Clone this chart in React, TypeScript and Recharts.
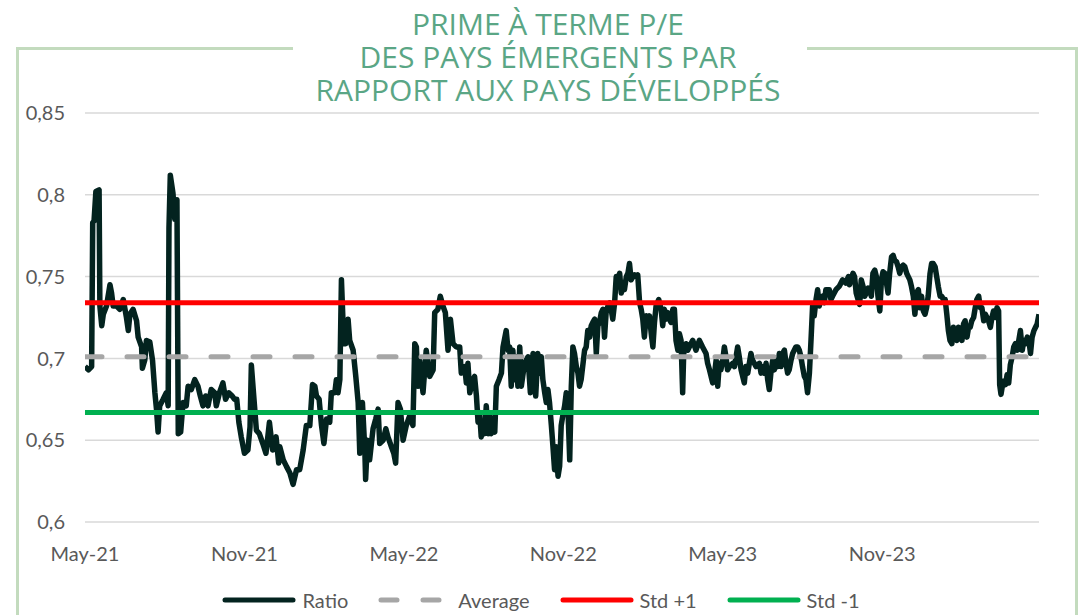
import { LineChart, Line, XAxis, YAxis, CartesianGrid } from 'recharts';

// x = months since May-21, y = forward P/E ratio EM / DM
const ratioPoints: [number, number][] = [
  [0.00, 0.695], [0.13, 0.693], [0.25, 0.695], [0.29, 0.783], [0.34, 0.784], [0.41, 0.802], [0.53, 0.803],
  [0.56, 0.732], [0.63, 0.720], [0.69, 0.727], [0.81, 0.732], [0.94, 0.745], [1.00, 0.740], [1.06, 0.732],
  [1.19, 0.732], [1.31, 0.730], [1.44, 0.736], [1.56, 0.725], [1.63, 0.717], [1.69, 0.727], [1.81, 0.730],
  [1.94, 0.723], [2.00, 0.713], [2.13, 0.707], [2.16, 0.694], [2.25, 0.699], [2.31, 0.711], [2.44, 0.710],
  [2.54, 0.699], [2.63, 0.679], [2.69, 0.669], [2.75, 0.655], [2.81, 0.671], [2.94, 0.675], [3.06, 0.679],
  [3.13, 0.671], [3.16, 0.780], [3.21, 0.812], [3.31, 0.801], [3.38, 0.785], [3.46, 0.797], [3.51, 0.654],
  [3.60, 0.655], [3.69, 0.673], [3.81, 0.671], [3.88, 0.683], [4.00, 0.681], [4.13, 0.687], [4.25, 0.683],
  [4.34, 0.677], [4.44, 0.671], [4.54, 0.677], [4.63, 0.671], [4.75, 0.681], [4.88, 0.679], [4.94, 0.671],
  [5.06, 0.679], [5.19, 0.685], [5.29, 0.675], [5.41, 0.679], [5.54, 0.677], [5.63, 0.675], [5.71, 0.675],
  [5.79, 0.661], [5.88, 0.652], [6.00, 0.642], [6.13, 0.644], [6.21, 0.658], [6.26, 0.696], [6.34, 0.679],
  [6.45, 0.656], [6.56, 0.654], [6.69, 0.648], [6.81, 0.642], [6.94, 0.661], [7.06, 0.644], [7.19, 0.652],
  [7.29, 0.636], [7.33, 0.646], [7.46, 0.638], [7.58, 0.634], [7.71, 0.630], [7.83, 0.623], [7.96, 0.632],
  [8.08, 0.632], [8.21, 0.644], [8.33, 0.659], [8.46, 0.659], [8.56, 0.684], [8.65, 0.683], [8.71, 0.677],
  [8.81, 0.675], [8.90, 0.659], [8.99, 0.648], [9.09, 0.663], [9.21, 0.661], [9.27, 0.679], [9.40, 0.679],
  [9.46, 0.687], [9.52, 0.679], [9.59, 0.687], [9.65, 0.748], [9.74, 0.709], [9.81, 0.709], [9.90, 0.724],
  [9.96, 0.711], [10.09, 0.705], [10.19, 0.689], [10.28, 0.673], [10.34, 0.642], [10.44, 0.673], [10.53, 0.644],
  [10.56, 0.626], [10.63, 0.650], [10.71, 0.638], [10.84, 0.657], [10.94, 0.663], [11.03, 0.669], [11.09, 0.648],
  [11.22, 0.650], [11.32, 0.657], [11.40, 0.652], [11.53, 0.646], [11.62, 0.642], [11.69, 0.636], [11.78, 0.673],
  [11.87, 0.669], [11.97, 0.650], [12.09, 0.659], [12.22, 0.665], [12.34, 0.659], [12.41, 0.709], [12.47, 0.707],
  [12.53, 0.683], [12.59, 0.699], [12.72, 0.679], [12.84, 0.705], [12.97, 0.689], [13.10, 0.693], [13.16, 0.728],
  [13.28, 0.730], [13.37, 0.738], [13.47, 0.732], [13.56, 0.728], [13.66, 0.705], [13.75, 0.724], [13.85, 0.709],
  [13.97, 0.707], [14.10, 0.707], [14.16, 0.691], [14.29, 0.695], [14.35, 0.685], [14.41, 0.697], [14.48, 0.679],
  [14.60, 0.687], [14.66, 0.689], [14.73, 0.677], [14.79, 0.661], [14.85, 0.667], [14.91, 0.652], [14.98, 0.659],
  [15.04, 0.654], [15.10, 0.671], [15.17, 0.654], [15.23, 0.665], [15.29, 0.654], [15.35, 0.656], [15.42, 0.655],
  [15.48, 0.683], [15.58, 0.687], [15.67, 0.691], [15.73, 0.707], [15.85, 0.717], [15.92, 0.705], [15.98, 0.707],
  [16.04, 0.683], [16.10, 0.705], [16.17, 0.687], [16.23, 0.701], [16.29, 0.683], [16.36, 0.707], [16.42, 0.683],
  [16.54, 0.697], [16.67, 0.701], [16.76, 0.679], [16.86, 0.703], [16.96, 0.677], [17.04, 0.703], [17.11, 0.691],
  [17.17, 0.701], [17.23, 0.687], [17.30, 0.679], [17.36, 0.673], [17.42, 0.681], [17.48, 0.673], [17.55, 0.659],
  [17.61, 0.646], [17.67, 0.632], [17.73, 0.646], [17.80, 0.628], [17.86, 0.634], [17.92, 0.659], [17.98, 0.665],
  [18.05, 0.671], [18.11, 0.679], [18.17, 0.671], [18.24, 0.638], [18.30, 0.683], [18.36, 0.707], [18.42, 0.703],
  [18.49, 0.695], [18.55, 0.691], [18.61, 0.683], [18.67, 0.687], [18.80, 0.705], [18.86, 0.707], [18.92, 0.717],
  [18.99, 0.713], [19.05, 0.720], [19.11, 0.722], [19.18, 0.724], [19.24, 0.703], [19.30, 0.720], [19.36, 0.722],
  [19.43, 0.728], [19.49, 0.730], [19.55, 0.713], [19.61, 0.728], [19.68, 0.732], [19.74, 0.734], [19.80, 0.730],
  [19.86, 0.724], [19.93, 0.734], [19.99, 0.750], [20.05, 0.748], [20.12, 0.752], [20.18, 0.740], [20.24, 0.746],
  [20.30, 0.742], [20.37, 0.750], [20.43, 0.752], [20.49, 0.758], [20.55, 0.748], [20.62, 0.750], [20.68, 0.751],
  [20.74, 0.750], [20.80, 0.751], [20.87, 0.734], [20.93, 0.730], [20.99, 0.724], [21.05, 0.713], [21.12, 0.726],
  [21.18, 0.720], [21.24, 0.726], [21.31, 0.715], [21.37, 0.707], [21.43, 0.722], [21.49, 0.732], [21.59, 0.736],
  [21.62, 0.734], [21.68, 0.730], [21.74, 0.720], [21.80, 0.730], [21.87, 0.724], [21.93, 0.728], [21.99, 0.724],
  [22.05, 0.722], [22.12, 0.730], [22.18, 0.730], [22.24, 0.711], [22.31, 0.705], [22.37, 0.715], [22.43, 0.711],
  [22.49, 0.679], [22.53, 0.703], [22.62, 0.709], [22.68, 0.705], [22.74, 0.707], [22.87, 0.711], [22.99, 0.705],
  [23.12, 0.711], [23.24, 0.707], [23.37, 0.703], [23.43, 0.697], [23.50, 0.693], [23.56, 0.689], [23.62, 0.685],
  [23.68, 0.689], [23.75, 0.699], [23.81, 0.683], [23.87, 0.697], [23.93, 0.693], [24.00, 0.699], [24.06, 0.707],
  [24.12, 0.701], [24.18, 0.693], [24.25, 0.695], [24.37, 0.697], [24.44, 0.695], [24.50, 0.701], [24.56, 0.707],
  [24.62, 0.701], [24.69, 0.693], [24.75, 0.689], [24.81, 0.685], [24.87, 0.695], [24.94, 0.691], [25.00, 0.697],
  [25.06, 0.703], [25.12, 0.699], [25.25, 0.695], [25.38, 0.697], [25.44, 0.691], [25.50, 0.695], [25.56, 0.691],
  [25.63, 0.697], [25.69, 0.687], [25.75, 0.681], [25.81, 0.691], [25.88, 0.699], [25.94, 0.693], [26.00, 0.699],
  [26.06, 0.695], [26.13, 0.703], [26.19, 0.695], [26.25, 0.703], [26.32, 0.705], [26.38, 0.697], [26.44, 0.691],
  [26.50, 0.693], [26.57, 0.699], [26.63, 0.703], [26.69, 0.705], [26.75, 0.707], [26.82, 0.707], [26.88, 0.705],
  [26.94, 0.701], [27.00, 0.695], [27.07, 0.689], [27.13, 0.687], [27.19, 0.679], [27.26, 0.691], [27.32, 0.711],
  [27.38, 0.732], [27.44, 0.726], [27.51, 0.736], [27.57, 0.742], [27.63, 0.732], [27.69, 0.736], [27.76, 0.738],
  [27.82, 0.734], [27.88, 0.742], [28.01, 0.742], [28.07, 0.736], [28.13, 0.738], [28.26, 0.742], [28.38, 0.744],
  [28.51, 0.748], [28.63, 0.746], [28.73, 0.750], [28.77, 0.745], [28.90, 0.752], [28.96, 0.750], [29.02, 0.740],
  [29.09, 0.736], [29.15, 0.733], [29.21, 0.748], [29.28, 0.744], [29.34, 0.738], [29.40, 0.740], [29.47, 0.743],
  [29.53, 0.742], [29.59, 0.738], [29.65, 0.752], [29.72, 0.754], [29.78, 0.750], [29.84, 0.738], [29.91, 0.729],
  [29.97, 0.748], [30.03, 0.753], [30.10, 0.752], [30.16, 0.746], [30.22, 0.740], [30.28, 0.752], [30.35, 0.762],
  [30.41, 0.763], [30.47, 0.760], [30.54, 0.759], [30.60, 0.756], [30.66, 0.752], [30.73, 0.756], [30.79, 0.757],
  [30.85, 0.756], [30.92, 0.752], [30.98, 0.750], [31.04, 0.748], [31.10, 0.744], [31.17, 0.738], [31.23, 0.727],
  [31.29, 0.740], [31.36, 0.742], [31.42, 0.731], [31.48, 0.738], [31.55, 0.729], [31.61, 0.727], [31.67, 0.731],
  [31.73, 0.738], [31.80, 0.752], [31.86, 0.758], [31.92, 0.758], [31.99, 0.756], [32.05, 0.750], [32.11, 0.744],
  [32.18, 0.738], [32.24, 0.738], [32.30, 0.736], [32.37, 0.736], [32.43, 0.727], [32.49, 0.717], [32.55, 0.711],
  [32.62, 0.709], [32.68, 0.719], [32.74, 0.715], [32.81, 0.711], [32.87, 0.719], [32.93, 0.713], [33.00, 0.711],
  [33.06, 0.721], [33.12, 0.723], [33.19, 0.713], [33.25, 0.719], [33.31, 0.719], [33.37, 0.723], [33.44, 0.725],
  [33.50, 0.731], [33.56, 0.736], [33.63, 0.738], [33.69, 0.731], [33.75, 0.731], [33.82, 0.723], [33.88, 0.727],
  [33.94, 0.725], [34.00, 0.723], [34.07, 0.719], [34.13, 0.725], [34.19, 0.729], [34.26, 0.725], [34.32, 0.731],
  [34.38, 0.729], [34.42, 0.684], [34.47, 0.678], [34.55, 0.686], [34.64, 0.684], [34.70, 0.690], [34.76, 0.685],
  [34.82, 0.696], [34.89, 0.701], [34.95, 0.707], [35.01, 0.709], [35.08, 0.705], [35.14, 0.711], [35.20, 0.717],
  [35.27, 0.705], [35.33, 0.711], [35.39, 0.709], [35.46, 0.713], [35.52, 0.711], [35.58, 0.703], [35.64, 0.713],
  [35.71, 0.717], [35.77, 0.719], [35.83, 0.721], [35.90, 0.727],
];

const average = 0.701;
const stdPlus = 0.734;
const stdMinus = 0.667;

const xTicks = [0, 6, 12, 18, 24, 30];
const xLabels = ['May-21', 'Nov-21', 'May-22', 'Nov-22', 'May-23', 'Nov-23'];
const yTicks = [0.6, 0.65, 0.7, 0.75, 0.8, 0.85];
const titleLines = ['PRIME À TERME P/E', 'DES PAYS ÉMERGENTS PAR', 'RAPPORT AUX PAYS DÉVELOPPÉS'];

const X_END = 35.9;

const ratioData = ratioPoints.map(([t, v]) => ({ t, v }));
const flat = (v: number) => [{ t: 0, v }, { t: X_END, v }];

const FRAME = '#c3dbbe';
const TEXT = '#595959';
const FONT = 'Lato, "Open Sans", sans-serif';

const legendItems = [
  { name: 'Ratio', color: '#03231f', dashed: false },
  { name: 'Average', color: '#a6a6a6', dashed: true },
  { name: 'Std +1', color: '#ff0000', dashed: false },
  { name: 'Std -1', color: '#00b050', dashed: false },
];

export default function App() {
  return (
    <div style={{ position: 'absolute', left: 0, top: 0, width: 1080, height: 615, background: '#fff', overflow: 'hidden' }}>
      {/* frame around the chart, open at the top for the title */}
      <div style={{ position: 'absolute', left: 16, top: 47, width: 3, height: 580, background: FRAME }} />
      <div style={{ position: 'absolute', left: 16, top: 47, width: 277, height: 3, background: FRAME }} />
      <div style={{ position: 'absolute', left: 807, top: 47, width: 271, height: 3, background: FRAME }} />
      <div style={{ position: 'absolute', left: 1075, top: 47, width: 3, height: 580, background: FRAME }} />

      {titleLines.map((l, i) => (
        <div
          key={l}
          style={{
            position: 'absolute', left: 0, top: 12 + i * 33, width: 1096, textAlign: 'center',
            fontFamily: '"Open Sans", sans-serif', fontSize: 30, lineHeight: '24px', color: '#5aa685',
          }}
        >
          {l}
        </div>
      ))}

      <div style={{ position: 'absolute', left: 0, top: 0 }}>
        <LineChart width={1080} height={615} margin={{ top: 113, right: 41, bottom: 63, left: 20 }}>
          <CartesianGrid vertical={false} stroke="#d9d9d9" strokeWidth={1.5} />
          <XAxis
            type="number"
            dataKey="t"
            domain={[0, X_END]}
            ticks={xTicks}
            tickFormatter={(v: number) => xLabels[xTicks.indexOf(v)] ?? ''}
            axisLine={false}
            tickLine={false}
            tickSize={6}
            tickMargin={19}
            height={30}
            tick={{ fill: TEXT, fontSize: 20, fontFamily: FONT }}
            allowDataOverflow
          />
          <YAxis
            type="number"
            domain={[0.6, 0.85]}
            ticks={yTicks}
            tickFormatter={(v: number) => String(v).replace('.', ',')}
            axisLine={false}
            tickLine={false}
            tickSize={6}
            tickMargin={14}
            width={65}
            tick={{ fill: TEXT, fontSize: 20, fontFamily: FONT }}
          />
          <Line
            data={ratioData}
            dataKey="v"
            type="linear"
            stroke="#03231f"
            strokeWidth={5.5}
            strokeLinejoin="round"
            dot={false}
            isAnimationActive={false}
          />
          <Line
            data={flat(average)}
            dataKey="v"
            stroke="#a6a6a6"
            strokeWidth={5}
            strokeDasharray="17 25"
            strokeLinecap="round"
            dot={false}
            isAnimationActive={false}
          />
          <Line
            data={flat(stdPlus)}
            dataKey="v"
            stroke="#ff0000"
            strokeWidth={5}
            dot={false}
            isAnimationActive={false}
          />
          <Line
            data={flat(stdMinus)}
            dataKey="v"
            stroke="#00b050"
            strokeWidth={5}
            dot={false}
            isAnimationActive={false}
          />
        </LineChart>
      </div>

      <div
        style={{
          position: 'absolute', left: 0, top: 586, width: 1082, display: 'flex', justifyContent: 'center',
          gap: 30, fontFamily: FONT, fontSize: 20, color: TEXT, lineHeight: '28px',
        }}
      >
        {legendItems.map((it) => (
          <div key={it.name} style={{ display: 'flex', alignItems: 'center', gap: 6 }}>
            <svg width={74} height={10}>
              <line
                x1={3} y1={5} x2={71} y2={5}
                stroke={it.color}
                strokeWidth={5}
                strokeLinecap="round"
                strokeDasharray={it.dashed ? '16 26' : undefined}
              />
            </svg>
            <span>{it.name}</span>
          </div>
        ))}
      </div>
    </div>
  );
}
